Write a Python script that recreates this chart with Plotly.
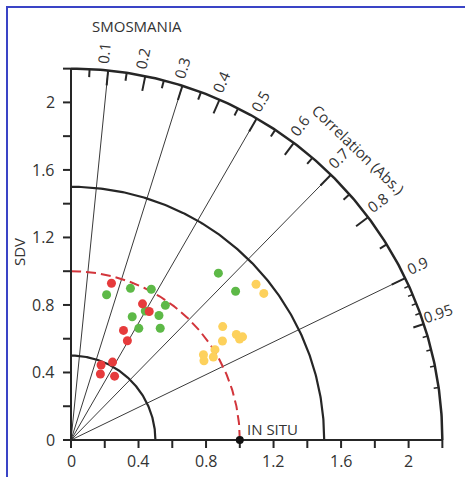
import numpy as np
import plotly.graph_objects as go

# Normalised standard deviation (SDV) and absolute correlation per product
red_sdv = [0.959, 0.911, 0.891, 0.720, 0.676, 0.523, 0.479, 0.428, 0.458]
red_corr = [0.250, 0.465, 0.520, 0.432, 0.494, 0.471, 0.372, 0.407, 0.564]

green_sdv = [0.886, 0.965, 1.012, 0.974, 0.882, 0.815, 0.903, 0.774, 0.847, 1.319, 1.314]
green_corr = [0.238, 0.365, 0.470, 0.574, 0.499, 0.445, 0.577, 0.519, 0.624, 0.662, 0.742]

yellow_sdv = [1.433, 1.435, 1.122, 1.072, 1.162, 1.164, 1.186, 1.007, 0.976, 0.933, 0.917]
yellow_corr = [0.765, 0.796, 0.801, 0.837, 0.843, 0.858, 0.857, 0.847, 0.864, 0.841, 0.859]

# Reference (in situ) point
ref_sdv = 1.0

# Axis / grid definitions
sdv_ticks = [round(0.2 * i, 1) for i in range(12)]           # 0 .. 2.2
sdv_labels = [0, 0.4, 0.8, 1.2, 1.6, 2]
sdv_max = 2.2
sdv_arcs = [0.5, 1.5]
corr_lines = [0.1, 0.3, 0.5, 0.7, 0.9]
corr_major = [0.1, 0.2, 0.3, 0.4, 0.5, 0.6, 0.7, 0.8, 0.9]
corr_minor = [0.05, 0.15, 0.25, 0.35, 0.45, 0.55, 0.65, 0.75, 0.85]
corr_fine = [0.91, 0.92, 0.93, 0.94, 0.96, 0.97, 0.98, 0.99]
corr_labels = [0.1, 0.2, 0.3, 0.4, 0.5, 0.6, 0.7, 0.8, 0.9, 0.95]

W, H = 465, 477
OX, OY = 71, 440          # pixel position of the diagram origin
S = 168.8                 # pixels per SDV unit

INK = "#262626"
TXT = "#333333"
FONT = "Open Sans"


def d(px):
    """pixel length -> data length"""
    return px / S


def xy(sdv, corr):
    sdv = np.asarray(sdv, float)
    corr = np.asarray(corr, float)
    return sdv * corr, sdv * np.sqrt(1 - corr ** 2)


def arc(r, n=200):
    t = np.linspace(0, np.pi / 2, n)
    return r * np.cos(t), r * np.sin(t)


fig = go.Figure()


def seg_trace(segs, width, color):
    xs, ys = [], []
    for (x0, y0, x1, y1) in segs:
        xs += [x0, x1, None]
        ys += [y0, y1, None]
    fig.add_trace(go.Scatter(x=xs, y=ys, mode="lines",
                             line=dict(color=color, width=width),
                             hoverinfo="skip", showlegend=False))


# radial correlation lines
seg_trace([(0, 0, sdv_max * c, sdv_max * np.sqrt(1 - c * c)) for c in corr_lines], 1, "#3a3a3a")

# SDV arcs
for r in sdv_arcs:
    ax, ay = arc(r)
    fig.add_trace(go.Scatter(x=ax, y=ay, mode="lines", line=dict(color=INK, width=2.2),
                             hoverinfo="skip", showlegend=False))
ax, ay = arc(sdv_max)
fig.add_trace(go.Scatter(x=ax, y=ay, mode="lines", line=dict(color=INK, width=2.5),
                         hoverinfo="skip", showlegend=False))

# reference SDV arc
ax, ay = arc(ref_sdv)
fig.add_trace(go.Scatter(x=ax, y=ay, mode="lines",
                         line=dict(color="#d2353b", width=2, dash="10px,5px"),
                         hoverinfo="skip", showlegend=False))

# axes
seg_trace([(0, 0, sdv_max, 0), (0, 0, 0, sdv_max)], 2, INK)
tl = d(8)
seg_trace([(v, 0, v, -tl) for v in sdv_ticks] + [(0, v, -tl, v) for v in sdv_ticks], 2, INK)


# correlation ticks on outer arc (pointing inward)
def arc_ticks(cs, length):
    out = []
    for c in cs:
        s_ = np.sqrt(1 - c * c)
        out.append((sdv_max * c, sdv_max * s_, (sdv_max - d(length)) * c, (sdv_max - d(length)) * s_))
    return out


seg_trace(arc_ticks(corr_major, 15), 2, INK)
seg_trace(arc_ticks(corr_minor, 8), 2, INK)
seg_trace(arc_ticks(corr_fine, 5), 1.5, INK)
seg_trace(arc_ticks([0.95], 11), 2, INK)

# model points
for sd, cc, col in [(green_sdv, green_corr, "#5db947"),
                    (red_sdv, red_corr, "#e63b3c"),
                    (yellow_sdv, yellow_corr, "#fdd15c")]:
    px_, py_ = xy(sd, cc)
    fig.add_trace(go.Scatter(x=px_, y=py_, mode="markers",
                             marker=dict(color=col, size=9, line=dict(width=0)),
                             cliponaxis=False, showlegend=False))

# in situ reference point
fig.add_trace(go.Scatter(x=[ref_sdv], y=[0], mode="markers",
                         marker=dict(color="#111111", size=8), cliponaxis=False,
                         showlegend=False))

ann = []
for v in sdv_labels:
    lab = f"{v:g}"
    ann.append(dict(x=v, y=-d(21), text=lab, xanchor="center", yanchor="middle",
                    font=dict(size=16, color=TXT)))
    ann.append(dict(x=-d(14), y=v, text=lab, xanchor="right", yanchor="middle",
                    font=dict(size=16, color=TXT)))

for c in corr_labels:
    th = np.arccos(c) + np.radians(0.9)
    r = sdv_max + d(17)
    ann.append(dict(x=r * np.cos(th), y=r * np.sin(th), text=f"{c:g}",
                    textangle=-np.degrees(np.arccos(c)),
                    xanchor="center", yanchor="middle",
                    font=dict(size=15, color=TXT)))

ann.append(dict(x=d(358 - OX), y=d(OY - 149), text="Correlation (Abs.)", textangle=44,
                xanchor="center", yanchor="middle", font=dict(size=15, color=TXT)))
ann.append(dict(x=d(19 - OX), y=d(OY - 252), text="SDV", textangle=-90,
                xanchor="center", yanchor="middle", font=dict(size=15, color=TXT)))
ann.append(dict(x=d(137 - OX), y=d(OY - 26), text="SMOSMANIA",
                xanchor="center", yanchor="middle", font=dict(size=15, color=TXT)))
ann.append(dict(x=d(272 - OX), y=d(OY - 429), text="IN SITU",
                xanchor="center", yanchor="middle", font=dict(size=15, color=TXT)))

for a in ann:
    a.update(xref="x", yref="y", showarrow=False)

fig.update_layout(
    width=W, height=H,
    margin=dict(l=0, r=0, t=0, b=0),
    paper_bgcolor="white", plot_bgcolor="white",
    font=dict(family=FONT),
    xaxis=dict(range=[-OX / S, (W - OX) / S], visible=False, fixedrange=True),
    yaxis=dict(range=[-(H - OY) / S, OY / S], visible=False, fixedrange=True),
    annotations=ann,
    shapes=[dict(type="rect", xref="paper", yref="paper",
                 x0=7 / W, x1=1.2, y0=-0.2, y1=1 - 7 / H,
                 line=dict(color="#3a44c6", width=2), layer="above")],
)

fig.write_html("out.html")
